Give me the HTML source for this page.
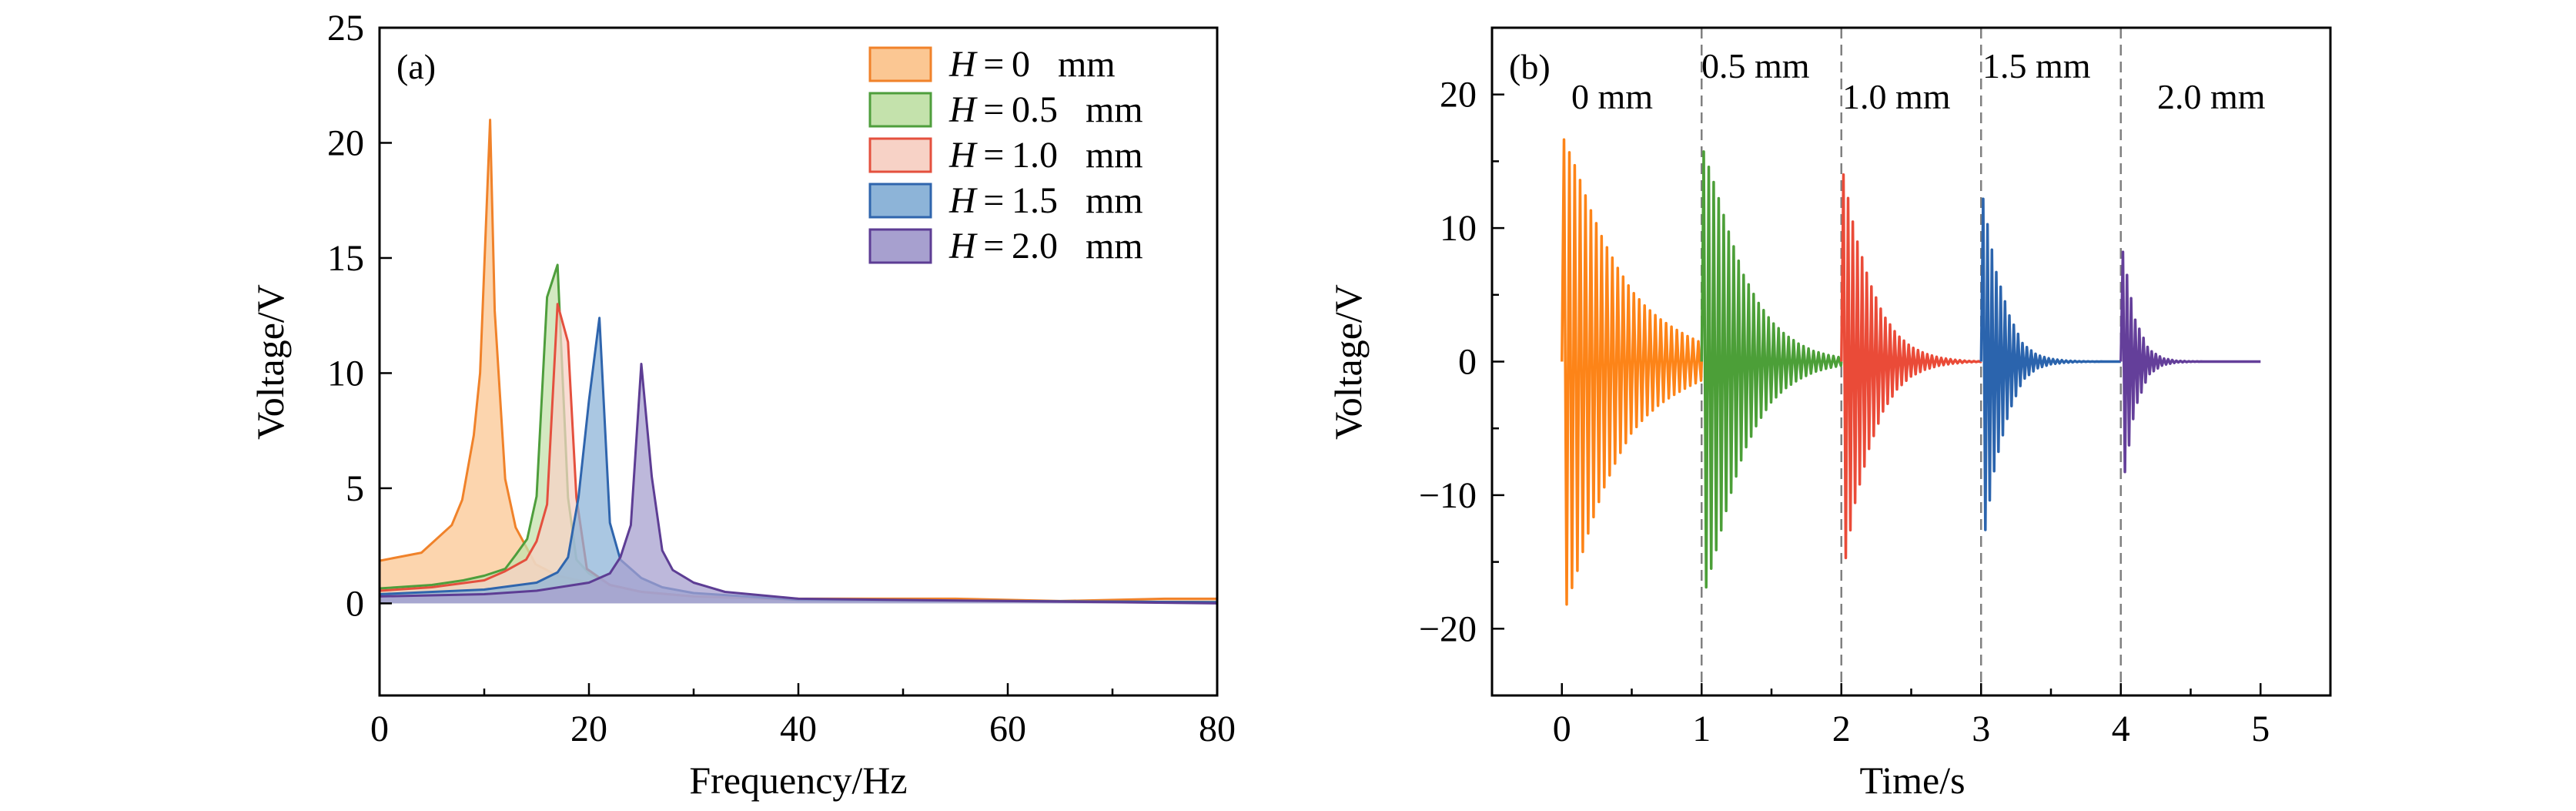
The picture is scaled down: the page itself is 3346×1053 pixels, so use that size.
<!DOCTYPE html>
<html><head><meta charset="utf-8"><style>
html,body{margin:0;padding:0;background:#fff;}
svg{display:block;font-family:"Liberation Serif","DejaVu Serif",serif;}
</style></head><body>
<svg id="fig" width="3346" height="1053" viewBox="0 0 3346 1053" xmlns="http://www.w3.org/2000/svg">
<g id="pa"></g>
<g id="pb"></g>
</svg>
<script>
// ---------- Panel (a) data ----------
const seriesNamesA = ["H = 0", "H = 0.5", "H = 1.0", "H = 1.5", "H = 2.0"];
const legendValuesA = ["0", "0.5", "1.0", "1.5", "2.0"];
const freqOrange = [0,4,6.9,7.9,9,9.6,10.56,11,12,13,14.9,17,20,25,30,40,55,65,75,80];
const voltOrange = [1.85,2.2,3.4,4.5,7.3,10,21,12.7,5.4,3.3,1.7,1.2,0.9,0.5,0.3,0.2,0.2,0.1,0.2,0.2];
const freqGreen = [0,5,8,10,12,13,14.1,15,16,17,18,18.8,20,22,25,30,40,80];
const voltGreen = [0.65,0.8,1.0,1.2,1.5,2.1,2.8,4.65,13.3,14.7,4.6,1.9,1.3,0.8,0.5,0.3,0.15,0.05];
const freqRed = [0,5,10,12,14,15,16,17,18,18.8,19.8,22,25,30,40,80];
const voltRed = [0.55,0.7,1.0,1.4,1.9,2.7,4.3,13.0,11.35,4.6,1.5,0.8,0.5,0.3,0.15,0.05];
const freqBlue = [0,10,15,17,18,19,20,21,22,23,25,27,30,35,40,80];
const voltBlue = [0.4,0.6,0.9,1.35,2.0,4.6,8.8,12.4,3.5,1.9,1.1,0.7,0.45,0.3,0.15,0.05];
const freqPurple = [0,10,15,20,22,23,24,25,26,27,28,30,33,40,80];
const voltPurple = [0.3,0.4,0.55,0.9,1.3,2.0,3.4,10.4,5.5,2.3,1.45,0.9,0.5,0.2,0.0];
const xTicksA = [0,20,40,60,80];
const yTicksA = [0,5,10,15,20,25];

// ---------- Panel (b) data ----------
const startTimesB = [0,1,2,3,4];
const labelsB = ["0 mm","0.5 mm","1.0 mm","1.5 mm","2.0 mm"];
const envTimesB = [0,0.1,0.2,0.3,0.4,0.5,0.6,0.7,0.8,0.9,1.0];
const envOrangePos = [17,14.5,11.5,9,7,5.3,4.1,3.2,2.5,1.9,1.4];
const envGreenPos = [16.2,13,9.5,6.5,4.5,3.0,2.0,1.3,0.8,0.5,0.3];
const envRedPos = [14.8,9.5,6,3.5,2,1.1,0.6,0.3,0.15,0.05,0.02];
const envBluePos = [13.1,7,3.5,1.3,0.5,0.2,0.08,0.03,0.01,0,0];
const envPurplePos = [9.1,3.2,0.9,0.25,0.06,0.02,0,0,0,0,0];
const negPeakB = [-19.3,-18.2,-16.7,-14.8,-10.3];
const oscFreqB = [26,28,30,32,34];
const xTicksB = [0,1,2,3,4,5];
const yTicksB = [-20,-10,0,10,20];

const NS = "http://www.w3.org/2000/svg";
function mk(parent, tag, attrs, text){
  const e = document.createElementNS(NS, tag);
  for (const k in attrs) e.setAttribute(k, attrs[k]);
  if (text !== undefined) e.textContent = text;
  parent.appendChild(e);
  return e;
}
const lineCols = ["#f0822a","#4e9e3c","#e4503e","#2f65ad","#5d3d94"];
const fillCols = ["#fbc793","#c4e2ac","#f7d2c6","#8db4d8","#a7a0cf"];
const bCols = ["#fd8418","#4c9f38","#ea4b38","#2b64ad","#643f9a"];
const TF = "48", TT = "50";

// ===== Panel A =====
const pa = document.getElementById("pa");
const AL=493, AR=1581, AT=36, AB=903;
const ax = f => AL + (f-0)/(80-0)*(AR-AL);
const ay = v => AB - (v-(-4))/(25-(-4))*(AB-AT);
const freqsA = [freqOrange,freqGreen,freqRed,freqBlue,freqPurple];
const voltsA = [voltOrange,voltGreen,voltRed,voltBlue,voltPurple];
const sNames = ["orange-0mm","green-0-5mm","red-1-0mm","blue-1-5mm","purple-2-0mm"];
for (let s=0;s<5;s++){
  const F=freqsA[s], V=voltsA[s];
  let pts = F.map((f,i)=>ax(f).toFixed(1)+","+ay(V[i]).toFixed(1));
  const area = "M"+ax(F[0])+","+ay(0)+" L"+pts.join(" L")+" L"+ax(F[F.length-1])+","+ay(0)+" Z";
  const a = mk(pa,"path",{d:area,fill:fillCols[s],"fill-opacity":"0.75",stroke:"none"});
  
  
  const l = mk(pa,"polyline",{points:pts.join(" "),fill:"none",stroke:lineCols[s],"stroke-width":"3","stroke-linejoin":"round"});
  
  
}
const fa = mk(pa,"rect",{x:AL,y:AT,width:AR-AL,height:AB-AT,fill:"none",stroke:"#000","stroke-width":"3"});


for (let f=0; f<=80; f+=10){
  const maj = f%20===0;
  const t = mk(pa,"line",{x1:ax(f),x2:ax(f),y1:AB,y2:AB-(maj?16:9),stroke:"#000","stroke-width":"2.5"});
  
  
}
xTicksA.forEach(f=>{
  const t = mk(pa,"text",{x:ax(f),y:962,"font-size":TF,"text-anchor":"middle"},String(f));
  
  
});
yTicksA.forEach(v=>{
  const t = mk(pa,"line",{x1:AL,x2:AL+16,y1:ay(v),y2:ay(v),stroke:"#000","stroke-width":"2.5"});
  
  
  const l = mk(pa,"text",{x:473,y:ay(v)+16,"font-size":TF,"text-anchor":"end"},String(v));
  
  
});
let tt = mk(pa,"text",{x:1037,y:1030,"font-size":TT,"text-anchor":"middle"},"Frequency/Hz");


tt = mk(pa,"text",{x:0,y:0,"font-size":TT,"text-anchor":"middle",transform:"translate(368,470) rotate(-90)"},"Voltage/V");


tt = mk(pa,"text",{x:515,y:102,"font-size":"46"},"(a)");


for (let s=0;s<5;s++){
  const y0 = 62 + s*59;
  const g = mk(pa,"g",{});
  
  
  mk(g,"rect",{x:1130,y:y0,width:79,height:43,fill:fillCols[s],stroke:lineCols[s],"stroke-width":"3"});
  const tx = mk(g,"text",{x:1233,y:y0+37,"font-size":"48"});
  mk(tx,"tspan",{"font-style":"italic"},"H");
  mk(tx,"tspan",{},"\u2009=\u2009"+legendValuesA[s]+"\u00a0\u00a0\u00a0mm");
}

// ===== Panel B =====
const pb = document.getElementById("pb");
const BL=1938, BR=3027, BT=36, BB=903;
const bx = t => BL + (t-(-0.5))/(5.5-(-0.5))*(BR-BL);
const by = v => BB - (v-(-25))/(25-(-25))*(BB-BT);
const envB = [envOrangePos,envGreenPos,envRedPos,envBluePos,envPurplePos];
[1,2,3,4].forEach(t=>{
  const d = mk(pb,"line",{x1:bx(t),x2:bx(t),y1:BT,y2:BB,stroke:"#808080","stroke-width":"2.5","stroke-dasharray":"14,8"});
  
  
});
function envAt(E, dt){
  const i = Math.min(Math.floor(dt/0.1), E.length-2);
  const r = (dt - envTimesB[i])/0.1;
  return E[i] + (E[i+1]-E[i])*Math.max(0,Math.min(1,r));
}
for (let s=0;s<5;s++){
  const E = envB[s], t0 = startTimesB[s], fq = oscFreqB[s];
  const negScale = -negPeakB[s]/E[0];
  const pts = [bx(t0).toFixed(1)+","+by(0).toFixed(1)];
  const half = 0.5/fq;
  let k=0;
  for (let dt=0.015; dt<=1.0; dt+=half, k++){
    const a = envAt(E,dt);
    const sc = 1 + (negScale-1)*Math.max(0,1-dt*2);
    const v = (k%2===0) ? a : -a*sc;
    pts.push(bx(t0+dt).toFixed(1)+","+by(v).toFixed(1));
  }
  pts.push(bx(t0+1).toFixed(1)+","+by(0).toFixed(1));
  const l = mk(pb,"polyline",{points:pts.join(" "),fill:"none",stroke:bCols[s],"stroke-width":"3.5","stroke-linejoin":"round"});
  
  
}
const fb = mk(pb,"rect",{x:BL,y:BT,width:BR-BL,height:BB-BT,fill:"none",stroke:"#000","stroke-width":"3"});


for (let t=0; t<=5.001; t+=0.5){
  const maj = Math.abs(t-Math.round(t))<1e-6;
  const tk = mk(pb,"line",{x1:bx(t),x2:bx(t),y1:BB,y2:BB-(maj?16:9),stroke:"#000","stroke-width":"2.5"});
  
  
}
xTicksB.forEach(t=>{
  const l = mk(pb,"text",{x:bx(t),y:962,"font-size":TF,"text-anchor":"middle"},String(t));
  
  
});
for (let v=-20; v<=20; v+=5){
  const maj = v%10===0;
  const tk = mk(pb,"line",{x1:BL,x2:BL+(maj?16:9),y1:by(v),y2:by(v),stroke:"#000","stroke-width":"2.5"});
  
  
}
yTicksB.forEach(v=>{
  const l = mk(pb,"text",{x:1918,y:by(v)+16,"font-size":TF,"text-anchor":"end"},v<0?"\u2212"+Math.abs(v):String(v));
  
  
});
tt = mk(pb,"text",{x:2484,y:1030,"font-size":TT,"text-anchor":"middle"},"Time/s");


tt = mk(pb,"text",{x:0,y:0,"font-size":TT,"text-anchor":"middle",transform:"translate(1768,470) rotate(-90)"},"Voltage/V");


tt = mk(pb,"text",{x:1960,y:102,"font-size":"46"},"(b)");


const lblX = [2041,2210,2393,2575,2802];
const lblY = [141,101,141,101,141];
labelsB.forEach((s,i)=>{
  const l = mk(pb,"text",{x:lblX[i],y:lblY[i],"font-size":"46"},s);
  
  
});
</script>
</body></html>
